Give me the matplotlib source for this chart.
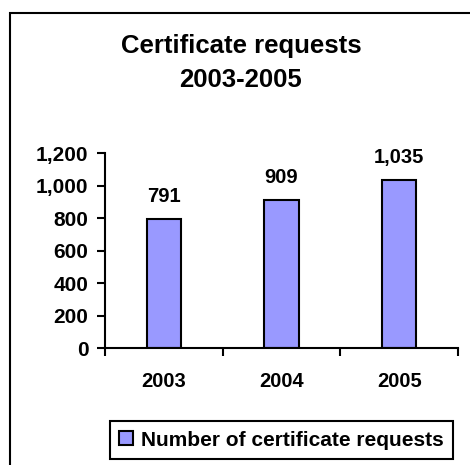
import numpy as np
import matplotlib.pyplot as plt
from matplotlib.patches import Rectangle

plt.rcParams['font.family'] = ['Liberation Sans', 'DejaVu Sans']
plt.rcParams['font.weight'] = 'bold'

years = ['2003', '2004', '2005']
requests = [791, 909, 1035]
yticks = [0, 200, 400, 600, 800, 1000, 1200]

W, H = 470, 465
fig = plt.figure(figsize=(W / 100, H / 100), dpi=100)

# outer frame (runs off the right and bottom edges)
fig.patches.append(Rectangle((10 / W, -0.1), 2, 1 - 13 / H + 0.1,
                             transform=fig.transFigure, fill=False,
                             edgecolor='black', linewidth=1.5))

ax = fig.add_axes([105 / W, 117 / H, (458 - 105) / W, (312 - 117) / H])
x = np.arange(len(years))
bars = ax.bar(x, requests, width=0.29, color='#9999FF', edgecolor='black',
              linewidth=1.5, label='Number of certificate requests')

for xi, v in zip(x, requests):
    ax.text(xi, v + 80, f'{v:,}', ha='center', va='bottom',
            fontsize=14.5, fontweight='bold')

ax.set_xlim(-0.5, 2.5)
ax.set_ylim(0, 1200)
ax.set_yticks(yticks)
ax.set_yticklabels([f'{t:,}' for t in yticks])
ax.set_xticks(x)
ax.set_xticklabels(years)
ax.set_xticks([-0.5, 0.5, 1.5, 2.5], minor=True)
ax.tick_params(axis='x', which='major', length=0, pad=17, labelsize=14.5)
ax.tick_params(axis='x', which='minor', length=6, width=1.5, direction='out')
ax.tick_params(axis='y', length=6, width=1.5, direction='out', pad=6,
               labelsize=15)
for lab in ax.get_xticklabels() + ax.get_yticklabels():
    lab.set_fontweight('bold')
for s in ['top', 'right']:
    ax.spines[s].set_visible(False)
for s in ['left', 'bottom']:
    ax.spines[s].set_linewidth(1.5)

fig.text(241 / W, 1 - 63 / H, 'Certificate requests\n2003-2005', ha='center',
         va='center', fontsize=18.5, fontweight='bold', linespacing=1.55)

leg = fig.legend(loc='center', bbox_to_anchor=((106 + 457) / 2 / W, 1 - 440 / H),
                 fancybox=False, framealpha=1, edgecolor='black',
                 handlelength=0.65, handleheight=0.65, handletextpad=0.4,
                 borderpad=0.45, borderaxespad=0,
                 prop={'size': 15, 'weight': 'bold'})
leg.get_frame().set_linewidth(1.5)

fig.savefig('out.png', dpi=100)
